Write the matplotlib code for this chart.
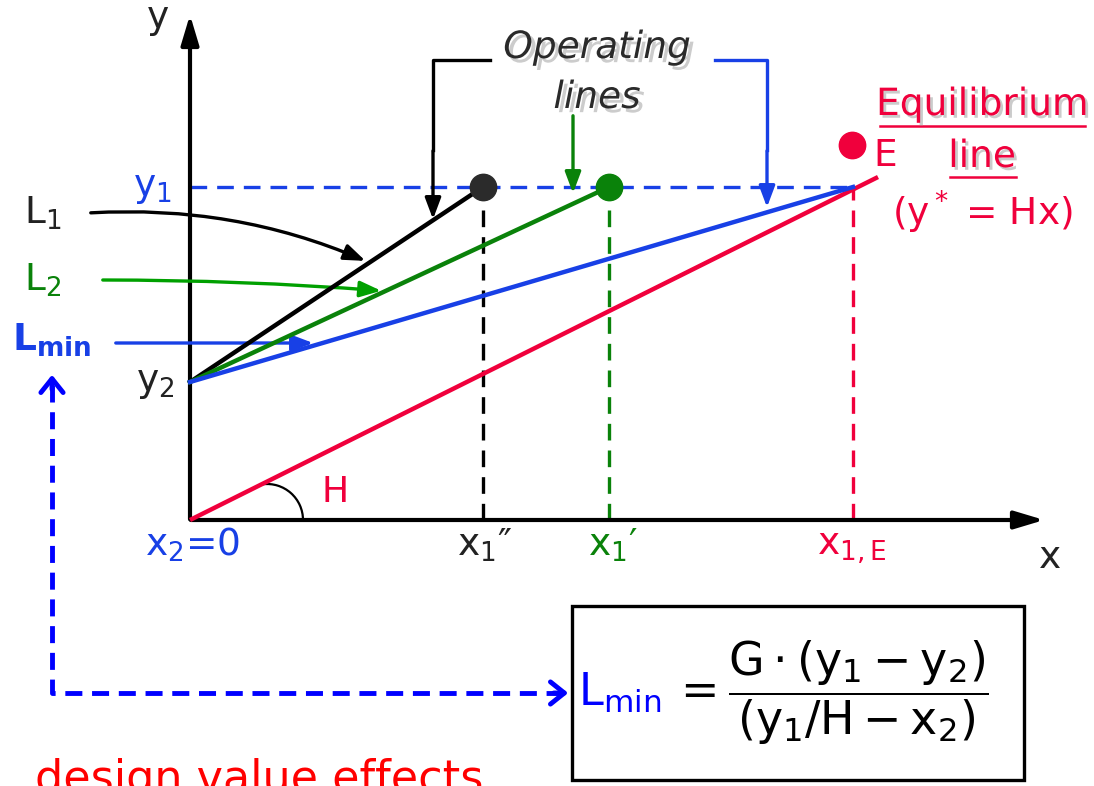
import numpy as np
import matplotlib
matplotlib.use("Agg")
import matplotlib.pyplot as plt
import matplotlib.patheffects as pe
from matplotlib.patches import Arc, Rectangle

plt.rcParams['font.family'] = ['DejaVu Sans']
plt.rcParams['mathtext.default'] = 'regular'

# diagram values (units ~ pixels from the origin)
y1 = 333
y2 = 138
x1_pp = 293          # x1''
x1_p = 419           # x1'
x1_E = 663           # x1,E
H = 0.4985           # slope of equilibrium line
eq_x = [0, 688]
E_dot = (662, 375)
op_ends = [x1_pp, x1_p, x1_E]

BLUE = '#1840e6'
PBLUE = '#0000ff'
GREEN = '#0a820a'
LGREEN = '#00a000'
RED = '#f0003c'
DARK = '#222222'

fig = plt.figure(figsize=(10.94, 7.86), dpi=100)
ax = fig.add_axes([0, 0, 1, 1])
ax.set_xlim(-190, 904)
ax.set_ylim(-266, 520)
ax.axis('off')

def P(px, py):
    # layout position given in image pixels
    return (px - 190, 520 - py)

# axes with arrows
ax.annotate('', xy=(0, 508), xytext=(0, -2),
            arrowprops=dict(arrowstyle='-|>,head_length=1.0,head_width=0.3', lw=3, color='black', mutation_scale=18))
ax.annotate('', xy=(857, 0), xytext=(-2, 0),
            arrowprops=dict(arrowstyle='-|>,head_length=1.0,head_width=0.3', lw=3, color='black', mutation_scale=18))
ax.text(*P(158, 18), 'y', fontsize=27, ha='center', va='center', color=DARK)
ax.text(*P(1050, 558), 'x', fontsize=27, ha='center', va='center', color=DARK)

# dashed guide lines
ax.plot([0, x1_E], [y1, y1], color=BLUE, lw=2.4, dashes=(5, 3), zorder=2)
ax.plot([x1_pp, x1_pp], [0, y1 - 14], color='black', lw=2.4, dashes=(5, 3), zorder=2)
ax.plot([x1_p, x1_p], [0, y1 - 14], color=GREEN, lw=2.4, dashes=(5, 3), zorder=2)
ax.plot([x1_E, x1_E], [0, y1], color=RED, lw=2.4, dashes=(5, 3), zorder=2)

# equilibrium line
ax.plot(eq_x, [H * v for v in eq_x], color=RED, lw=3.2, solid_capstyle='butt', zorder=3)

# operating lines
for xe, c in zip(op_ends, ['black', GREEN, BLUE]):
    ax.plot([0, xe], [y2, y1], color=c, lw=3.2, zorder=4)

# end points
ax.plot(x1_pp, y1, 'o', ms=19, color='#2b2b2b', zorder=5)
ax.plot(x1_p, y1, 'o', ms=19, color=GREEN, zorder=5)
ax.plot(*E_dot, 'o', ms=19, color=RED, zorder=5)

# angle H
ax.add_patch(Arc(P(267, 520), 72, 72, theta1=0, theta2=97, lw=1.6, color='black'))
ax.text(*P(335, 492), 'H', fontsize=26, color=RED, ha='center', va='center')

# axis labels
fs = 27
ax.text(*P(152, 188), '$y_1$', fontsize=fs, color=BLUE, ha='center', va='center')
ax.text(*P(155, 383), '$y_2$', fontsize=fs, color=DARK, ha='center', va='center')
ax.text(*P(43, 213), '$L_1$', fontsize=fs, color=DARK, ha='center', va='center')
ax.text(*P(43, 280), '$L_2$', fontsize=fs, color=GREEN, ha='center', va='center')
ax.text(*P(52, 340), r'$\mathbf{L_{min}}$', fontsize=fs, color=BLUE, ha='center', va='center', fontweight='bold')
ax.text(*P(193, 545), '$x_2$=0', fontsize=fs, color=BLUE, ha='center', va='center')
ax.text(*P(485, 545), 'x$_1$\u2033', fontsize=fs, color=DARK, ha='center', va='center')
ax.text(*P(613, 545), 'x$_1$\u2032', fontsize=fs, color=GREEN, ha='center', va='center')
ax.text(*P(852, 548), 'x$_{1,E}$', fontsize=fs, color=RED, ha='center', va='center')
ax.text(*P(885, 156), 'E', fontsize=fs, color=RED, ha='center', va='center')

# equilibrium line caption
shadow = [pe.withSimplePatchShadow(offset=(2, -2), shadow_rgbFace='#999999', alpha=0.5)]
ax.text(*P(982, 105), 'Equilibrium', fontsize=fs, color=RED, ha='center', va='center', path_effects=shadow)
ax.plot([P(880, 0)[0], P(1085, 0)[0]], [P(0, 126)[1]] * 2, color=RED, lw=1.8)
ax.text(*P(982, 157), 'line', fontsize=fs, color=RED, ha='center', va='center', path_effects=shadow)
ax.plot([P(950, 0)[0], P(1016, 0)[0]], [P(0, 177)[1]] * 2, color=RED, lw=1.8)
ax.text(*P(982, 212), '(y$^*$ = Hx)', fontsize=fs, color=RED, ha='center', va='center')

# operating lines caption
shadow2 = [pe.withSimplePatchShadow(offset=(3, -3), shadow_rgbFace='#aaaaaa', alpha=0.6)]
ax.text(*P(597, 48), 'Operating', fontsize=fs, color='#2a2a2a', style='italic', ha='center', va='center', path_effects=shadow2)
ax.text(*P(597, 98), 'lines', fontsize=fs, color='#2a2a2a', style='italic', ha='center', va='center', path_effects=shadow2)

head = dict(arrowstyle='-|>,head_length=0.8,head_width=0.3', mutation_scale=16, lw=2.4)
# bracket arrows pointing to operating lines
ax.plot(*zip(P(490, 60), P(433, 60), P(433, 150)), color='black', lw=2.4)
ax.annotate('', xy=P(433, 222), xytext=P(433, 148), arrowprops=dict(color='black', **head))
ax.annotate('', xy=P(573, 196), xytext=P(573, 113), arrowprops=dict(color=GREEN, **head))
ax.plot(*zip(P(715, 60), P(767, 60), P(767, 150)), color=BLUE, lw=2.4)
ax.annotate('', xy=P(767, 210), xytext=P(767, 148), arrowprops=dict(color=BLUE, **head))

# L arrows toward the lines
ax.annotate('', xy=P(368, 262), xytext=P(88, 213),
            arrowprops=dict(color='black', connectionstyle='arc3,rad=-0.12', **head))
ax.annotate('', xy=P(384, 291), xytext=P(100, 280),
            arrowprops=dict(color=LGREEN, connectionstyle='arc3,rad=-0.02', **head))
ax.annotate('', xy=P(316, 343), xytext=P(113, 343),
            arrowprops=dict(color=BLUE, **head))

# dashed L-shaped link to the formula
ax.plot(*zip(P(52, 385), P(52, 693), P(562, 693)), color=PBLUE, lw=3.5, dashes=(3.5, 2))
ax.annotate('', xy=P(52, 372), xytext=P(52, 392),
            arrowprops=dict(arrowstyle='->,head_length=0.5,head_width=0.4', mutation_scale=20, lw=3.5, color=PBLUE))
ax.annotate('', xy=P(571, 693), xytext=P(551, 693),
            arrowprops=dict(arrowstyle='->,head_length=0.5,head_width=0.4', mutation_scale=20, lw=3.5, color=PBLUE))

# formula box
x0, yb = P(572, 780)
ax.add_patch(Rectangle((x0, yb), 452, 174, fill=False, lw=2.4, edgecolor='black'))
ax.text(*P(578, 693), '$L_{min}$', fontsize=32, color=PBLUE, ha='left', va='center')
ax.text(*P(672, 693), r'$=\dfrac{G\cdot(y_1 - y_2)}{(y_1/H - x_2)}$', fontsize=33, color='black', ha='left', va='center')

# bottom caption (cut off by the figure edge, as in the source slide)
ax.text(*P(35, 792), 'design value effects', fontsize=32, color='#ff0000', ha='left', va='baseline')

fig.savefig('out.png', dpi=100)
